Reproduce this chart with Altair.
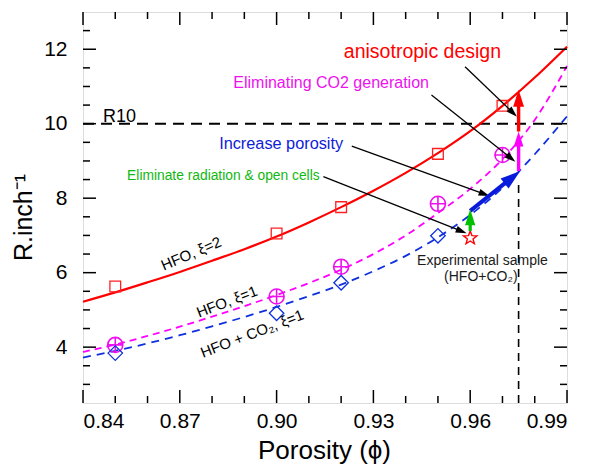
import math
import altair as alt
import pandas as pd

# ---------------- data ----------------
phi_meas = [0.85, 0.90, 0.92, 0.95, 0.97]
r_hfo_xi2 = [5.63, 7.05, 7.76, 9.19, 10.48]
r_hfo_xi1 = [4.06, 5.36, 6.16, 7.85, 9.16]
phi_co2 = [0.85, 0.90, 0.92, 0.95]
r_co2_xi1 = [3.84, 4.91, 5.73, 6.99]

phi_fit = [0.84, 0.85, 0.86, 0.87, 0.88, 0.89, 0.90, 0.91,
           0.92, 0.93, 0.94, 0.95, 0.96, 0.97, 0.98, 0.99]
fit_hfo_xi2 = [5.22, 5.47, 5.74, 6.02, 6.32, 6.63, 6.97, 7.35,
               7.76, 8.20, 8.68, 9.21, 9.80, 10.48, 11.24, 12.07]
fit_hfo_xi1 = [3.87, 4.07, 4.30, 4.55, 4.82, 5.10, 5.40, 5.72,
               6.08, 6.50, 7.00, 7.60, 8.25, 9.05, 10.10, 11.55]
fit_co2_xi1 = [3.72, 3.90, 4.10, 4.32, 4.56, 4.81, 5.08, 5.37,
               5.68, 6.04, 6.45, 6.95, 7.55, 8.28, 9.18, 10.20]

exp_phi = [0.96]
exp_r = [6.95]

r10_value = 10.0
phi_target = 0.975
phi_target_top = 8.4

# thick coloured arrows (radiation, porosity, CO2, anisotropic)
arrow_x0 = [0.960, 0.960, 0.975, 0.975]
arrow_y0 = [7.12, 7.66, 8.73, 9.79]
arrow_x1 = [0.960, 0.9755, 0.975, 0.975]
arrow_y1 = [7.70, 8.73, 9.79, 10.91]
arrow_colors = ["#00c000", "#0a1adc", "#ff00ff", "#ff0000"]

# thin black pointer arrows
pointer_x0 = [0.9584, 0.9480, 0.9233, 0.9145]
pointer_y0 = [11.53, 10.77, 9.40, 8.58]
pointer_x1 = [0.9745, 0.9740, 0.9660, 0.9589]
pointer_y1 = [10.19, 8.98, 8.06, 7.06]

# tick values
x_major = [0.84, 0.87, 0.90, 0.93, 0.96, 0.99]
x_minor = [0.85, 0.86, 0.88, 0.89, 0.91, 0.92, 0.94, 0.95, 0.97, 0.98]
y_major = [4, 6, 8, 10, 12]
y_minor = [3, 3.5, 4.5, 5, 5.5, 6.5, 7, 7.5, 8.5, 9, 9.5, 10.5, 11, 11.5, 12.5]

# annotation texts
ann_text = ["anisotropic design", "Eliminating CO2 generation", "Increase porosity",
            "Eliminate radiation & open cells", "Experimental sample", "(HFO+CO\u2082)"]
ann_x = [0.9452, 0.9169, 0.9014, 0.8835, 0.9638, 0.9633]
ann_y = [11.77, 10.96, 9.33, 8.49, 6.21, 5.78]
ann_color = ["#ff0000", "#ee10ee", "#1020d8", "#10b810", "#1a1a1a", "#1a1a1a"]
ann_size = [19.5, 16, 16.3, 13.8, 14, 14]

curve_text = ["HFO, \u03be=2", "HFO, \u03be=1", "HFO + CO\u2082, \u03be=1"]
curve_x = [0.8735, 0.8846, 0.8924]
curve_y = [6.51, 5.22, 4.36]
curve_angle = [337, 339, 339]

# ---------------- layout ----------------
W, H = 484, 391
XD = [0.84, 0.99]
YD = [2.5, 13.0]
KX = W / (XD[1] - XD[0])
KY = H / (YD[1] - YD[0])
FONT = "Liberation Sans"

xaxis = alt.Axis(values=x_major, format=".2f", ticks=False, tickSize=0, domain=False, grid=False,
                 labelFontSize=21, labelPadding=7, labelColor="black",
                 title="Porosity (\u03d5)", titleFontSize=26, titleFontWeight="normal",
                 titleColor="black", titleX=241, titleY=55, titleBaseline="alphabetic",
                 titleAlign="center")
yaxis = alt.Axis(values=y_major, format="d", ticks=False, tickSize=0, domain=False, grid=False,
                 labelFontSize=21, labelPadding=16, labelColor="black",
                 title="R.inch\u207b\u00b9", titleFontSize=25, titleFontWeight="normal",
                 titleColor="black", titleAngle=270, titleX=-52, titleY=205,
                 titleBaseline="alphabetic", titleAlign="center")
xs = alt.Scale(domain=XD, nice=False, zero=False)
ys = alt.Scale(domain=YD, nice=False, zero=False)


def X(f):
    return alt.X(f, type="quantitative", scale=xs, axis=xaxis)


def Y(f):
    return alt.Y(f, type="quantitative", scale=ys, axis=yaxis)


def arrows(x0, y0, x1, y1, head_len):
    rows = []
    for a, b, c, d, L in zip(x0, y0, x1, y1, head_len):
        dx = (c - a) * KX
        dy = -(d - b) * KY
        dist = math.hypot(dx, dy)
        ux, uy = dx / dist, dy / dist
        back = L * 0.75
        rows.append(dict(x0=a, y0=b, x1=c, y1=d,
                         xs=c - ux * back / KX, ys=d + uy * back / KY,
                         ang=math.degrees(math.atan2(dx, -dy)) % 360,
                         hs=4 * L * L))
    return pd.DataFrame(rows)


HEAD = "M0,0L0.32,1L-0.32,1Z"
_pts = []
for k in range(10):
    r = 1.0 if k % 2 == 0 else 0.42
    t = math.radians(-90 + 36 * k)
    _pts.append("%.3f,%.3f" % (r * math.cos(t), r * math.sin(t) + 0.1))
STAR = "M" + "L".join(_pts) + "Z"

# ---------------- layers ----------------
ref_df = pd.DataFrame({"x0": [XD[0]], "x1": [XD[1]], "y0": [r10_value]})
r10_line = alt.Chart(ref_df).mark_rule(color="black", strokeWidth=2, strokeDash=[11, 7]).encode(
    x=X("x0"), x2="x1", y=Y("y0"))
vt_df = pd.DataFrame({"x0": [phi_target], "y0": [YD[0]], "y1": [phi_target_top]})
vt_line = alt.Chart(vt_df).mark_rule(color="black", strokeWidth=1.6, strokeDash=[8, 6]).encode(
    x=X("x0"), y=Y("y0"), y2="y1")

fit_df = pd.DataFrame({"x": phi_fit, "a": fit_hfo_xi2, "b": fit_hfo_xi1, "c": fit_co2_xi1})
line_red = alt.Chart(fit_df).mark_line(color="#ff0000", strokeWidth=2.2, interpolate="monotone").encode(
    x=X("x"), y=Y("a"))
line_mag = alt.Chart(fit_df).mark_line(color="#ff00ff", strokeWidth=1.8, strokeDash=[7, 5],
                                       interpolate="monotone").encode(x=X("x"), y=Y("b"))
line_blue = alt.Chart(fit_df).mark_line(color="#1030e0", strokeWidth=1.8, strokeDash=[8, 6],
                                        interpolate="monotone").encode(x=X("x"), y=Y("c"))

meas_df = pd.DataFrame({"x": phi_meas, "a": r_hfo_xi2, "b": r_hfo_xi1})
co2_df = pd.DataFrame({"x": phi_co2, "c": r_co2_xi1})
pts_red = alt.Chart(meas_df).mark_point(shape="square", size=115, filled=False, color="#ff2020",
                                        strokeWidth=1.3, opacity=1).encode(x=X("x"), y=Y("a"))
pts_mag = alt.Chart(meas_df).mark_point(
    shape="M-1,0A1,1 0 1,0 1,0A1,1 0 1,0 -1,0ZM-1,0L1,0M0,-1L0,1", size=225, filled=False,
    color="#ee10ee", strokeWidth=1.6, opacity=1).encode(x=X("x"), y=Y("b"))
pts_blue = alt.Chart(co2_df).mark_point(shape="diamond", size=210, filled=False, color="#1030e0",
                                        strokeWidth=1.3, opacity=1).encode(x=X("x"), y=Y("c"))
exp_df = pd.DataFrame({"x": exp_phi, "y": exp_r})
star = alt.Chart(exp_df).mark_point(shape=STAR, size=200, filled=False, color="#ff0000",
                                    strokeWidth=1.4, opacity=1).encode(x=X("x"), y=Y("y"))

pdf = arrows(pointer_x0, pointer_y0, pointer_x1, pointer_y1, [11, 11, 11, 11])
p_shaft = alt.Chart(pdf).mark_rule(color="black", strokeWidth=1.3).encode(
    x=X("x0"), y=Y("y0"), x2="xs", y2="ys")
p_head = alt.Chart(pdf).mark_point(shape=HEAD, filled=True, color="black", opacity=1).encode(
    x=X("x1"), y=Y("y1"), angle=alt.Angle("ang:Q", scale=None), size=alt.Size("hs:Q", scale=None))

adf = arrows(arrow_x0, arrow_y0, arrow_x1, arrow_y1, [16, 20, 15, 17])
adf["color"] = arrow_colors
adf["sw"] = [3.2, 4.0, 3.4, 3.4]
a_shaft = alt.Chart(adf).mark_rule(strokeCap="butt").encode(
    x=X("x0"), y=Y("y0"), x2="xs", y2="ys",
    color=alt.Color("color:N", scale=None), strokeWidth=alt.StrokeWidth("sw:Q", scale=None))
a_head = alt.Chart(adf).mark_point(shape=HEAD, filled=True, opacity=1).encode(
    x=X("x1"), y=Y("y1"), color=alt.Color("color:N", scale=None),
    angle=alt.Angle("ang:Q", scale=None), size=alt.Size("hs:Q", scale=None))

# frame ticks (inward)
def tick_layers(vals, length):
    d = pd.DataFrame({"v": vals})
    left = alt.Chart(d).mark_rule(color="black", strokeWidth=1.5).encode(
        y=Y("v"), x=alt.value(0), x2=alt.value(length))
    right = alt.Chart(d).mark_rule(color="black", strokeWidth=1.5).encode(
        y=Y("v"), x=alt.value(W), x2=alt.value(W - length))
    return [left, right]


def xtick_layers(vals, length):
    d = pd.DataFrame({"v": vals})
    bottom = alt.Chart(d).mark_rule(color="black", strokeWidth=1.5).encode(
        x=X("v"), y=alt.value(H), y2=alt.value(H - length))
    top = alt.Chart(d).mark_rule(color="black", strokeWidth=1.5).encode(
        x=X("v"), y=alt.value(0), y2=alt.value(length))
    return [bottom, top]


ticks = (tick_layers(y_major, 13) + tick_layers(y_minor, 7)
         + xtick_layers(x_major, 13) + xtick_layers(x_minor, 7))

ann_df = pd.DataFrame({"t": ann_text, "x": ann_x, "y": ann_y, "c": ann_color, "s": ann_size})
ann = alt.Chart(ann_df).mark_text(align="center", baseline="alphabetic", font=FONT).encode(
    x=X("x"), y=Y("y"), text="t:N", color=alt.Color("c:N", scale=None),
    size=alt.Size("s:Q", scale=None))
r10_df = pd.DataFrame({"t": ["R10"], "x": [0.8462], "y": [10.05]})
r10_text = alt.Chart(r10_df).mark_text(align="left", baseline="alphabetic", font=FONT, fontSize=18,
                                       color="black").encode(x=X("x"), y=Y("y"), text="t:N")
cur_df = pd.DataFrame({"t": curve_text, "x": curve_x, "y": curve_y, "a": curve_angle})
cur_text = alt.Chart(cur_df).mark_text(align="center", baseline="middle", font=FONT, fontSize=15,
                                       color="black").encode(
    x=X("x"), y=Y("y"), text="t:N", angle=alt.Angle("a:Q", scale=None))

chart = alt.layer(
    r10_line, vt_line, line_red, line_mag, line_blue,
    pts_red, pts_mag, pts_blue, star,
    p_shaft, p_head, a_shaft, a_head,
    *ticks, ann, r10_text, cur_text,
).properties(
    width=W, height=H,
    padding={"left": 83, "top": 12, "right": 22, "bottom": 66},
    autosize=alt.AutoSizeParams(type="none"),
).configure_view(stroke="black", strokeWidth=1.8).configure_axis(
    labelFont=FONT, titleFont=FONT
).configure(background="white")

chart.save("out.html", embed_options={"renderer": "svg", "actions": False})
